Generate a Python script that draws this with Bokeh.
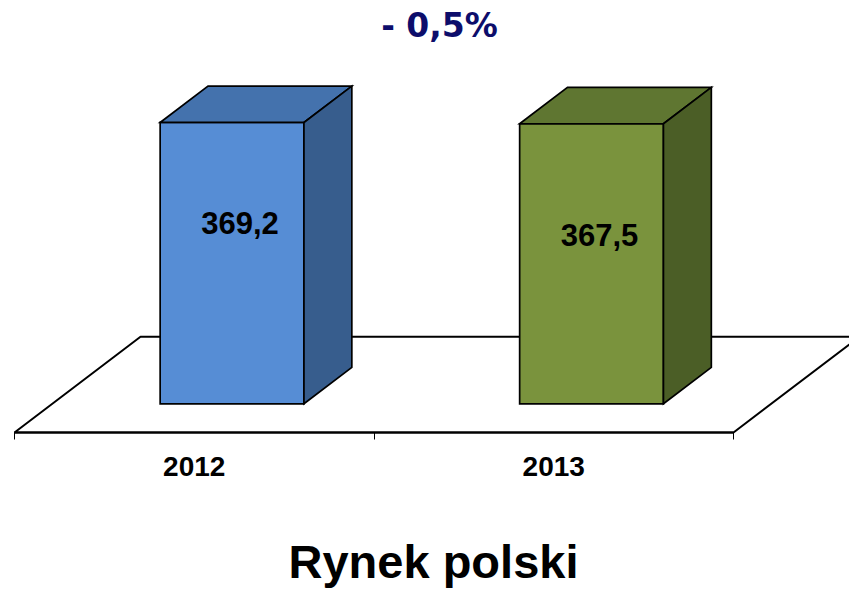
from bokeh.plotting import figure
from bokeh.models import Range1d, LinearAxis, FixedTicker, Label, ColumnDataSource
from bokeh.core.properties import value
from bokeh.embed import file_html
from bokeh.resources import INLINE

# ---- data ----
years = ["2012", "2013"]
market = [369.2, 367.5]
value_labels = ["369,2", "367,5"]
change_label = "- 0,5%"
caption = "Rynek polski"

# ---- styles ----
front_colors = ["#568dd5", "#7a933d"]
top_colors = ["#4472ad", "#5f7631"]
side_colors = ["#375d8d", "#4b5e26"]
label_frac = [0.641, 0.604]

W, H = 849, 590
CAT_PX = 359.5     # pixels per category
VAL_PX = 0.762     # pixels per value unit
X0, Y0 = 14, 432   # page position of the floor's front-left corner
DX = 126 / CAT_PX  # full floor depth, category units
DY = 95.7 / VAL_PX # full floor depth, value units
D0, D1 = 0.30, 0.68
HALF = 0.2
n = len(years)

x_range = Range1d(-X0 / CAT_PX, (W - X0) / CAT_PX)
y_range = Range1d((Y0 - H) / VAL_PX, Y0 / VAL_PX)

p = figure(width=W, height=H, x_range=x_range, y_range=y_range,
           min_border=0, toolbar_location=None, output_backend="svg",
           x_axis_type=None, y_axis_type=None, outline_line_color=None,
           background_fill_color="white", border_fill_color="white")


def proj(c, v, d):
    return c + d * DX, v + d * DY


def face(pts):
    xs, ys = zip(*[proj(*q) for q in pts])
    return list(xs), list(ys)


# floor
fx, fy = face([(0, 0, 0), (n, 0, 0), (n, 0, 1), (0, 0, 1)])
p.patch(fx, fy, fill_color="white", line_color="black", line_width=2)

# bars
for i, v in enumerate(market):
    c = i + 0.5
    l, r = c - HALF, c + HALF
    faces = [
        (face([(l, 0, D0), (r, 0, D0), (r, v, D0), (l, v, D0)]), front_colors[i]),
        (face([(l, v, D0), (r, v, D0), (r, v, D1), (l, v, D1)]), top_colors[i]),
        (face([(r, 0, D0), (r, 0, D1), (r, v, D1), (r, v, D0)]), side_colors[i]),
    ]
    for (xs, ys), col in faces:
        p.patch(xs, ys, fill_color=col, line_color="black", line_width=1.7,
                line_join="miter")

# value labels
src = ColumnDataSource(dict(
    x=[i + 0.5 + D0 * DX for i in range(n)],
    y=[v * f + D0 * DY for v, f in zip(market, label_frac)],
    t=value_labels,
))
p.text(x="x", y="y", text="t", source=src, x_offset=8,
       text_align="center", text_baseline="middle",
       text_font=value("Liberation Sans"), text_font_style="bold",
       text_font_size="31px", text_color="black")

# category axis on the floor's front edge
ax = LinearAxis(fixed_location=0, bounds=(0, n),
                ticker=FixedTicker(ticks=[i + 0.5 for i in range(n)],
                                   minor_ticks=list(range(n + 1))))
ax.major_label_overrides = {i + 0.5: y for i, y in enumerate(years)}
ax.axis_line_color = "black"
ax.axis_line_width = 2
ax.major_tick_line_color = None
ax.major_tick_out = 0
ax.major_tick_in = 0
ax.minor_tick_line_color = "black"
ax.minor_tick_line_width = 1
ax.minor_tick_out = 7
ax.minor_tick_in = 0
ax.major_label_standoff = 17
ax.major_label_text_font = "Liberation Sans"
ax.major_label_text_font_style = "bold"
ax.major_label_text_font_size = "28px"
ax.major_label_text_color = "black"
p.add_layout(ax, "below")

p.add_layout(Label(x=439, y=H - 25, x_units="screen", y_units="screen",
                   text=change_label, text_align="center",
                   text_baseline="middle", text_font="DejaVu Sans",
                   text_font_style="bold", text_font_size="33px",
                   text_color="#0d0d6b"))
p.add_layout(Label(x=433, y=H - 561, x_units="screen", y_units="screen",
                   text=caption, text_align="center",
                   text_baseline="middle", text_font="Liberation Sans",
                   text_font_style="bold", text_font_size="47px",
                   text_color="black"))

open("out.html", "w").write(file_html(p, INLINE))
